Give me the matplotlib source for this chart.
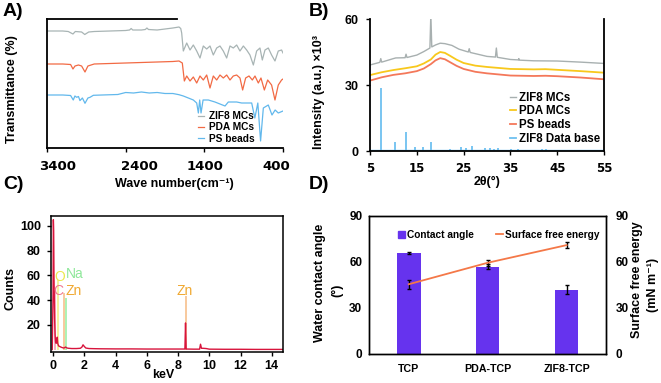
import matplotlib
matplotlib.use("Agg")
import matplotlib.pyplot as plt
import matplotlib.transforms as mtransforms
from matplotlib.patches import Patch
from matplotlib.lines import Line2D

plt.rcParams['font.family'] = ['Liberation Sans', 'DejaVu Sans']
plt.rcParams['font.weight'] = 'bold'
plt.rcParams['axes.labelweight'] = 'bold'

# ---------------- A) FTIR ----------------
ir_zif8_wn = [3400, 3300, 3200, 3130, 3070, 3040, 2960, 2920, 2870, 2800, 2600, 2400,
              2350, 2330, 2310, 2200, 2150, 2130, 2110, 2000, 1900, 1800, 1722, 1700,
              1688, 1667, 1624, 1582, 1540, 1497, 1455, 1413, 1370, 1328, 1286, 1243,
              1201, 1159, 1116, 1074, 1032, 989, 947, 904, 862, 820, 777, 735, 693,
              663, 629, 587, 545, 502, 460, 418, 400]
ir_zif8_t = [117, 117, 117, 116.5, 114, 116.5, 116, 113.5, 116, 116.5, 117, 117.5,
             118, 119.5, 118, 118, 118.5, 120, 118.5, 118, 119, 120, 121, 119.5,
             115, 97, 105, 98, 103, 97, 90, 102, 99, 102, 93, 100,
             102, 97, 90, 102, 100, 103, 97, 102, 98, 93, 83, 97, 100,
             88, 98, 100, 93, 87, 97, 98, 95]

ir_pda_wn = [3400, 3200, 3100, 3070, 3044, 3000, 2960, 2917, 2880, 2800, 2600, 2400,
             2200, 2000, 1800, 1722, 1680, 1654, 1624, 1582, 1540, 1497, 1455, 1413,
             1370, 1328, 1286, 1243, 1201, 1159, 1116, 1074, 1032, 989, 947, 913, 875,
             832, 790, 756, 714, 680, 637, 595, 545, 502, 460, 418, 400]
ir_pda_t = [84, 84, 83.5, 79, 82, 83, 82, 76, 82, 84, 84.5, 85,
            85.5, 86, 86.5, 87, 85, 67, 72, 67, 71, 65, 72, 68,
            73, 60, 72, 68, 73, 70, 73, 68, 72, 73, 70, 58, 70,
            72, 68, 72, 65, 70, 58, 68, 63, 48, 63, 68, 69]

ir_ps_wn = [3400, 3200, 3100, 3066, 3045, 3023, 3000, 2981, 2950, 2917, 2880, 2853,
            2811, 2700, 2500, 2400, 2300, 2200, 2100, 2000, 1900, 1800, 1722, 1667,
            1603, 1540, 1497, 1476, 1459, 1442, 1416, 1349, 1265, 1137, 1095, 989,
            926, 798, 758, 720, 685, 650, 587, 540, 500, 460, 400]
ir_ps_t = [53, 53, 52.5, 48, 52, 50.7, 51.5, 47.4, 50, 44.7, 50, 50.7,
           52.7, 53, 53.5, 55.5, 55, 56, 55, 55.5, 54.5, 54.5, 53.3, 52,
           50, 48, 45, 35, 48, 35, 48, 48, 46, 42, 46, 46,
           45, 45, 30, 45, 7, 40, 43, 33, 38, 35, 37]

ir_ticks = [3400, 2400, 1400, 400]

# ---------------- B) XRD ----------------
xrd_zif8_x = [5, 7.1, 7.3, 7.5, 10, 10.5, 12.5, 12.7, 12.9, 15, 16.5, 17.8, 18.0, 18.2,
              19, 20, 21, 22.5, 24, 26, 26.2, 26.4, 28, 30, 31.8, 32.0, 32.2, 35,
              36.7, 36.8, 36.9, 40, 45, 50, 55]
xrd_zif8_y = [39.1, 40.3, 42.0, 40.4, 42.0, 42.3, 42.4, 44.0, 42.5, 43.6, 45.2, 46.8, 62, 47.3,
              48.2, 49.0, 48.8, 48.0, 46.3, 45.0, 46.5, 44.8, 44.0, 43.0, 42.7, 46.8, 42.6, 41.6,
              41.4, 42.0, 41.3, 41.0, 40.9, 40.4, 39.8]

xrd_smooth_x = [5, 7.5, 10, 12.5, 15, 16.5, 18, 19, 20, 21, 22, 23.5, 25, 27.5, 30, 35,
                40, 42.5, 45, 50, 55]
xrd_pda_y = [34.5, 35.8, 36.8, 37.6, 38.5, 39.8, 41.6, 43.8, 45.0, 44.6, 43.4, 41.5, 40.0,
             38.8, 38.2, 37.3, 37.1, 37.2, 36.9, 36.3, 35.6]
xrd_ps_y = [32.0, 33.5, 34.6, 35.3, 36.3, 37.5, 39.5, 41.2, 42.2, 41.7, 40.5, 38.7, 37.3,
            36.0, 35.3, 34.3, 34.1, 34.2, 34.0, 33.4, 32.6]

xrd_db_peaks = [7.4, 10.4, 12.7, 14.7, 16.4, 18.0, 22.1, 24.5, 25.6, 26.7, 29.6, 30.6,
                31.5, 32.4, 35.1, 36.6, 41.8, 42.5]
xrd_db_height = [28.5, 4.2, 8.5, 2.0, 2.0, 4.2, 0.8, 2.0, 1.5, 2.4, 1.5, 1.2,
                 1.0, 1.2, 1.0, 0.8, 1.0, 0.8]
xrd_db_base = 0.4

# ---------------- C) EDS ----------------
eds_kev = [-0.05, 0.0, 0.02, 0.04, 0.06, 0.08, 0.1, 0.13, 0.16, 0.2, 0.24, 0.27, 0.3,
           0.35, 0.42, 0.5, 0.6, 0.7, 0.8, 0.9, 1.0, 1.2, 1.5, 1.75, 1.85, 1.92, 2.0,
           2.1, 2.3, 2.6, 3.0, 4.0, 5.0, 6.0, 7.0, 8.0, 8.44, 8.48, 8.52, 9.0, 9.38,
           9.44, 9.5, 9.6, 9.8, 10.0, 11, 12, 13, 14, 14.7]
eds_counts = [0, 45, 105, 96, 60, 42, 25, 12, 6, 5, 8, 10, 5,
              3, 2.5, 2, 1.5, 1.2, 2, 1.2, 1, 0.8, 0.8, 1, 2, 3.8, 2.5,
              1.2, 0.8, 0.7, 0.6, 0.5, 0.5, 0.4, 0.4, 0.4, 0.4, 21.5, 0.4, 0.3, 0.3,
              4.3, 1, 1, 0.8, 0.3, 0.2, 0.2, 0.1, 0.1, 0.1]

eds_lines_kev = [0.1, 0.32, 0.73, 0.82, 8.48]
eds_lines_h = [48, 56, 46, 42, 43]
eds_lines_col = ['#f4a0b4', '#f4f08c', '#f7c08c', '#9ef0a8', '#f7c08c']

eds_labels = ['C', 'O', 'Na', 'Zn', 'Zn']
eds_label_x = [0.35, 0.42, 1.4, 1.3, 8.45]
eds_label_y = [47, 59, 61, 47, 47]
eds_label_col = ['#f07890', '#ece84c', '#8ee89a', '#f0a830', '#f0a830']

# ---------------- D) contact angle / surface energy ----------------
groups = ['TCP', 'PDA-TCP', 'ZIF8-TCP']
contact_angle = [66, 57, 42]
contact_err = [0.8, 1.5, 3]
surface_energy = [45.5, 59.5, 71]
surface_err = [3, 2, 2]

W, H = 661, 383
fig = plt.figure(figsize=(W / 100, H / 100), dpi=100)


def box(l, t, r, b):
    return [l / W, 1 - b / H, (r - l) / W, (b - t) / H]


tick_fs = 9
label_fs = 9

# ---- A ----
axA = fig.add_axes(box(47, 19, 283, 148))
axA.plot(ir_zif8_wn, ir_zif8_t, color='#a8b4b4', lw=0.9, label='ZIF8 MCs')
axA.plot(ir_pda_wn, ir_pda_t, color='#f26a44', lw=0.9, label='PDA MCs')
axA.plot(ir_ps_wn, ir_ps_t, color='#62b8ec', lw=0.9, label='PS beads')
axA.set_xlim(3400, 400)
axA.set_ylim(0, 129)
axA.set_xticks(ir_ticks)
axA.set_yticks([])
axA.spines['right'].set_visible(False)
axA.spines['top'].set_bounds(3400, 1750)
for s in axA.spines.values():
    s.set_linewidth(1.3)
axA.tick_params(axis='x', length=3, width=1, pad=6, labelsize=9.5)
for lab, dx in zip(axA.get_xticklabels(), [11, 14, 1, -7]):
    lab.set_family('DejaVu Sans')
    lab.set_transform(lab.get_transform() + mtransforms.ScaledTranslation(dx / 100, 0, fig.dpi_scale_trans))
axA.legend(loc='upper left', bbox_to_anchor=(0.64, 0.285), frameon=False, fontsize=7.3,
           handlelength=0.6, handletextpad=0.5, labelspacing=0.12, borderpad=0,
           borderaxespad=0)

# ---- B ----
axB = fig.add_axes(box(370, 19, 604, 151))
axB.plot(xrd_zif8_x, xrd_zif8_y, color='#a8b0b0', lw=1, label='ZIF8 MCs')
axB.plot(xrd_smooth_x, xrd_pda_y, color='#f8c81c', lw=1.3, label='PDA MCs')
axB.plot(xrd_smooth_x, xrd_ps_y, color='#f4785a', lw=1.3, label='PS beads')
axB.axhline(xrd_db_base, color='#6ec0f0', lw=1)
axB.vlines(xrd_db_peaks, 0, xrd_db_height, color='#6ec0f0', lw=1.3)
axB.plot([], [], color='#6ec0f0', lw=1.3, label='ZIF8 Data base')
axB.set_xlim(5, 55)
axB.set_ylim(0, 60)
axB.set_xticks([5, 15, 25, 35, 45, 55])
axB.set_yticks([0, 30, 60])
axB.spines['top'].set_visible(False)
for s in axB.spines.values():
    s.set_linewidth(1.3)
axB.tick_params(length=3, width=1, labelsize=tick_fs)
axB.tick_params(axis='x', pad=5, labelsize=8.5)
axB.tick_params(axis='y', pad=5)
for lab in axB.get_xticklabels():
    lab.set_family('DejaVu Sans')
axB.legend(loc='upper left', bbox_to_anchor=(0.598, 0.45), frameon=False, fontsize=8.3,
           handlelength=0.5, handletextpad=0.3, labelspacing=0.15, borderpad=0,
           borderaxespad=0)

# ---- C ----
axC = fig.add_axes(box(50.7, 216, 282.7, 352))
axC.vlines(eds_lines_kev, 0, eds_lines_h, colors=eds_lines_col, lw=1.2)
axC.plot(eds_kev, eds_counts, color='#d8143c', lw=1)
for t, x, y, c in zip(eds_labels, eds_label_x, eds_label_y, eds_label_col):
    axC.text(x, y, t, color=c, fontsize=10, fontweight='normal', ha='center', va='center')
axC.set_xlim(-0.15, 14.7)
axC.set_ylim(-2, 108)
axC.set_xticks(range(0, 15, 2))
axC.set_yticks([20, 40, 60, 80, 100])
for s in axC.spines.values():
    s.set_linewidth(1.1)
axC.tick_params(length=3, width=1, labelsize=tick_fs)
axC.tick_params(axis='x', pad=3)
axC.tick_params(axis='y', pad=4)

# ---- D ----
axD = fig.add_axes(box(369.3, 216, 606, 354))
xD = range(len(groups))
axD.bar(xD, contact_angle, width=0.3, color='#6633ee', yerr=contact_err,
        error_kw=dict(ecolor='black', elinewidth=1, capsize=1.5, capthick=1))
axD2 = axD.twinx()
axD2.errorbar(xD, surface_energy, yerr=surface_err, color='#f47848', lw=1.3,
              ecolor='black', elinewidth=1, capsize=1.5)
axD.set_xlim(-0.5, 2.5)
axD.set_ylim(0, 90)
axD2.set_ylim(0, 90)
axD.set_yticks([0, 30, 60, 90])
axD2.set_yticks([0, 30, 60, 90])
axD.set_xticks(list(xD))
axD.set_xticklabels(groups)
for a in (axD, axD2):
    for s in a.spines.values():
        s.set_linewidth(1)
axD.tick_params(length=0, labelsize=8.5)
axD.tick_params(axis='x', pad=7, labelsize=7.7)
axD.tick_params(axis='y', pad=5)
axD2.tick_params(length=0, labelsize=8.5, pad=7)
handles = [Patch(color='#6633ee'), Line2D([], [], color='#f47848', lw=1.3)]
axD.legend(handles, ['Contact angle', 'Surface free energy'], loc='upper left',
           bbox_to_anchor=(0.12, 0.9), ncol=2, frameon=False, fontsize=7.3,
           handlelength=0.7, handletextpad=0.2, columnspacing=2.2, borderpad=0,
           borderaxespad=0)

# ---- text labels ----
def ftext(x, y, s, **kw):
    fig.text(x / W, 1 - y / H, s, **kw)


for x, y, s in [(3, 3, 'A)'), (309, 3, 'B)'), (3, 176, 'C)'), (309, 176, 'D)')]:
    ftext(x, y, s, fontsize=14, ha='left', va='top')

ftext(12.5, 89, 'Transmittance (%)', fontsize=label_fs, rotation=90, ha='center', va='center')
ftext(174, 184, 'Wave number(cm⁻¹)', fontsize=label_fs, ha='center', va='center')
ftext(319, 92, 'Intensity (a.u.) ×10³', fontsize=label_fs, rotation=90, ha='center', va='center')
ftext(487, 182, '2θ(°)', fontsize=label_fs, ha='center', va='center')
ftext(10, 288, 'Counts', fontsize=label_fs, rotation=90, ha='center', va='center')
ftext(163, 375, 'keV', fontsize=label_fs, ha='center', va='center')
ftext(319.5, 283, 'Water contact angle', fontsize=label_fs, rotation=90, ha='center', va='center')
ftext(337, 290, '(°)', fontsize=label_fs, rotation=90, ha='center', va='center')
ftext(637, 280, 'Surface free energy', fontsize=label_fs, rotation=90, ha='center', va='center')
ftext(653, 285, '(mN m⁻¹)', fontsize=label_fs, rotation=90, ha='center', va='center')

fig.savefig('out.png', dpi=100)
